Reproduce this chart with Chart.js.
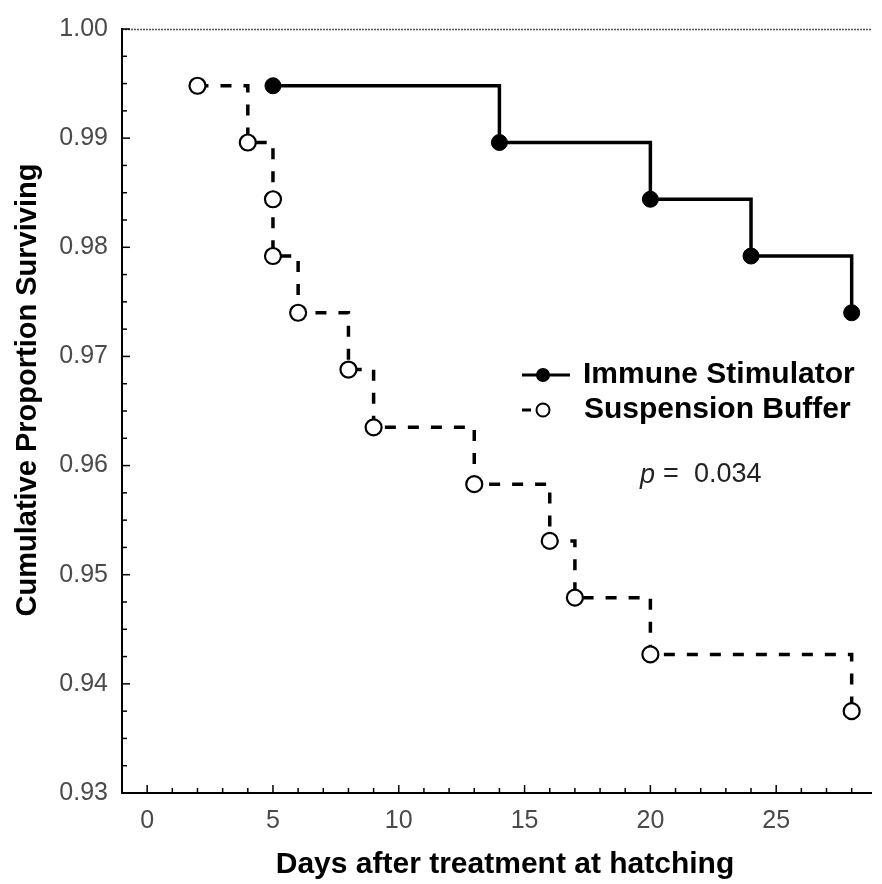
<!DOCTYPE html>
<html>
<head>
<meta charset="utf-8">
<title>Cumulative Proportion Surviving</title>
<script src="https://cdn.jsdelivr.net/npm/chart.js@4.4.1/dist/chart.umd.min.js"></script>
<style>
  html, body { margin: 0; padding: 0; background: #fff; }
  #wrap { width: 882px; height: 884px; }
</style>
</head>
<body>
<div id="wrap"><canvas id="c" width="882" height="884"></canvas></div>
<script>
// Kaplan-Meier survival steps
const stimulatorDays = [5, 14, 20, 24, 28];
const stimulatorSurvival = [0.9948, 0.9896, 0.9844, 0.9792, 0.9740];

const bufferDays = [2, 4, 5, 5, 6, 8, 9, 13, 16, 17, 20, 28];
const bufferSurvival = [0.9948, 0.9896, 0.9844, 0.9792, 0.9740, 0.9688, 0.9635, 0.9583, 0.9531, 0.9479, 0.9427, 0.9375];

const seriesNames = ['Immune Stimulator', 'Suspension Buffer'];
const xTickValues = [0, 5, 10, 15, 20, 25];
const yTickValues = [0.93, 0.94, 0.95, 0.96, 0.97, 0.98, 0.99, 1.00];
const pValueText = '0.034';

const FONT = '"Liberation Sans", Arial, Helvetica, sans-serif';

const toPoints = (xs, ys) => xs.map((x, i) => ({ x: x, y: ys[i] }));

// Inward ticks, top frame line, axis titles, legend and p-value
const decorations = {
  id: 'decorations',
  afterDraw(chart) {
    const ctx = chart.ctx;
    const xs = chart.scales.x, ys = chart.scales.y;
    const a = chart.chartArea;
    ctx.save();

    // top frame line
    ctx.strokeStyle = '#555';
    ctx.lineWidth = 1.5;
    ctx.setLineDash([2, 1]);
    ctx.beginPath();
    ctx.moveTo(a.left, a.top + 0.5);
    ctx.lineTo(a.right, a.top + 0.5);
    ctx.stroke();
    ctx.setLineDash([]);

    // inward ticks on the x axis: every day, longer every 5 days
    ctx.strokeStyle = '#000';
    ctx.lineWidth = 1.5;
    for (let d = 0; d <= 28; d++) {
      const px = xs.getPixelForValue(d);
      const len = d % 5 === 0 ? 8 : 5;
      ctx.beginPath();
      ctx.moveTo(px, a.bottom);
      ctx.lineTo(px, a.bottom - len);
      ctx.stroke();
    }
    // inward ticks on the y axis: every 0.0025, longer every 0.01
    for (let k = 0; k <= 28; k++) {
      const v = 0.93 + k * 0.0025;
      const py = ys.getPixelForValue(v);
      const len = k % 4 === 0 ? 8 : 5;
      ctx.beginPath();
      ctx.moveTo(a.left, py);
      ctx.lineTo(a.left + len, py);
      ctx.stroke();
    }

    // axis titles
    ctx.fillStyle = '#000';
    ctx.textAlign = 'center';
    ctx.textBaseline = 'middle';
    ctx.font = 'bold 30px ' + FONT;
    ctx.fillText('Days after treatment at hatching', 505, 865);
    ctx.font = 'bold 29px ' + FONT;
    ctx.save();
    ctx.translate(28, 390);
    ctx.rotate(-Math.PI / 2);
    ctx.fillText('Cumulative Proportion Surviving', 0, 0);
    ctx.restore();

    // legend
    const lx0 = 522, lx1 = 570, lcx = 543;
    const rowY = [375, 410];
    ctx.strokeStyle = '#000';
    ctx.lineWidth = 3;
    ctx.beginPath();
    ctx.moveTo(lx0, rowY[0]);
    ctx.lineTo(lx1, rowY[0]);
    ctx.stroke();
    ctx.beginPath();
    ctx.arc(lcx, rowY[0], 7, 0, Math.PI * 2);
    ctx.fillStyle = '#000';
    ctx.fill();

    ctx.beginPath();
    ctx.moveTo(lx0, rowY[1]);
    ctx.lineTo(lx0 + 9, rowY[1]);
    ctx.stroke();
    ctx.beginPath();
    ctx.arc(lcx, rowY[1], 6.5, 0, Math.PI * 2);
    ctx.fillStyle = '#fff';
    ctx.fill();
    ctx.lineWidth = 2;
    ctx.stroke();

    ctx.fillStyle = '#000';
    ctx.font = 'bold 30px ' + FONT;
    ctx.textAlign = 'left';
    ctx.textBaseline = 'middle';
    ctx.fillText(seriesNames[0], 583, rowY[0]);
    ctx.fillText(seriesNames[1], 584, rowY[1]);

    // p-value annotation
    ctx.fillStyle = '#222';
    ctx.font = 'italic 27px ' + FONT;
    ctx.fillText('p', 640, 475);
    ctx.font = '27px ' + FONT;
    ctx.fillText('=', 663, 475);
    ctx.fillText(pValueText, 694, 475);

    ctx.restore();
  }
};

new Chart(document.getElementById('c'), {
  type: 'line',
  data: {
    datasets: [
      {
        label: seriesNames[0],
        data: toPoints(stimulatorDays, stimulatorSurvival),
        stepped: 'before',
        borderColor: '#000',
        borderWidth: 3.5,
        pointRadius: 8,
        pointBackgroundColor: '#000',
        pointBorderColor: '#000',
        pointBorderWidth: 1,
        fill: false
      },
      {
        label: seriesNames[1],
        data: toPoints(bufferDays, bufferSurvival),
        stepped: 'before',
        borderColor: '#000',
        borderWidth: 3.5,
        borderDash: [11, 12],
        pointRadius: 8,
        pointBackgroundColor: '#fff',
        pointBorderColor: '#000',
        pointBorderWidth: 2.2,
        fill: false
      }
    ]
  },
  options: {
    responsive: false,
    animation: false,
    events: [],
    layout: { padding: { top: 25, right: 0, left: 0, bottom: 0 } },
    plugins: {
      legend: { display: false },
      tooltip: { enabled: false },
      title: { display: false }
    },
    scales: {
      x: {
        type: 'linear',
        min: -1,
        max: 28.8,
        afterBuildTicks: (s) => { s.ticks = xTickValues.map(v => ({ value: v })); },
        afterFit: (s) => { s.height = 91; },
        grid: { display: true, drawOnChartArea: false, drawTicks: false },
        border: { display: true, color: '#000', width: 2 },
        ticks: {
          color: '#4a4a4a',
          padding: 13,
          maxRotation: 0,
          autoSkip: false,
          font: { family: FONT, size: 25 },
          callback: (v) => String(v)
        }
      },
      y: {
        type: 'linear',
        min: 0.93,
        max: 1.0,
        afterBuildTicks: (s) => { s.ticks = yTickValues.map(v => ({ value: v })); },
        afterFit: (s) => { s.width = 122; },
        grid: { display: true, drawOnChartArea: false, drawTicks: false },
        border: { display: true, color: '#000', width: 2 },
        ticks: {
          color: '#4a4a4a',
          padding: 14,
          autoSkip: false,
          font: { family: FONT, size: 25 },
          callback: (v) => Number(v).toFixed(2)
        }
      }
    }
  },
  plugins: [decorations]
});
</script>
</body>
</html>
